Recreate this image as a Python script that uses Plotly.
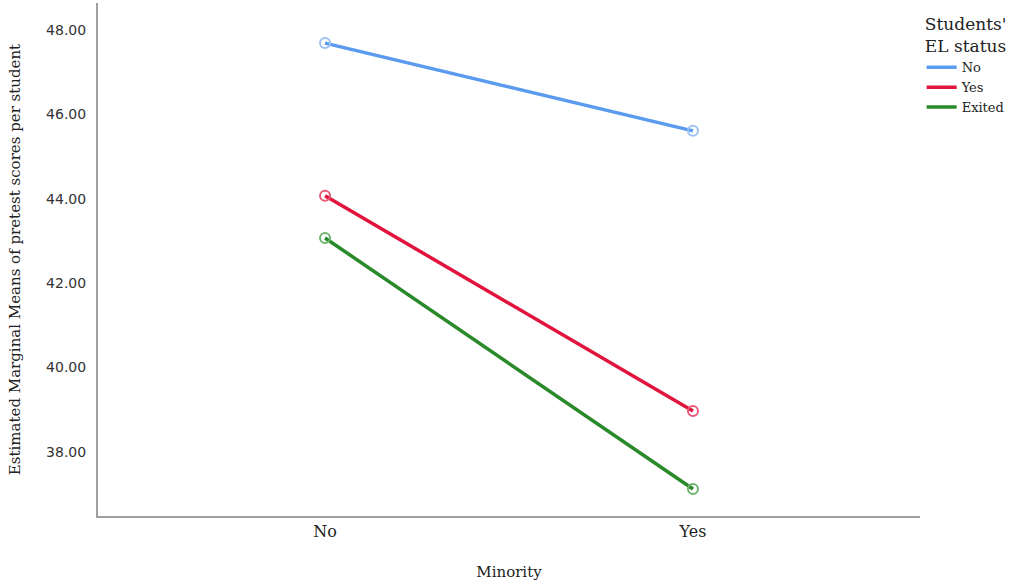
import plotly.graph_objects as go

minority = ['No', 'Yes']
el_status = ['No', 'Yes', 'Exited']
means = {
    'No': [47.69, 45.61],
    'Yes': [44.07, 38.97],
    'Exited': [43.07, 37.12],
}
line_colors = {'No': '#5b9bef', 'Yes': '#e0143c', 'Exited': '#2a8a2a'}
marker_colors = {'No': '#9cc2f5', 'Yes': '#ea5a76', 'Exited': '#6fb56f'}

serif = 'DejaVu Serif, serif'
sans = 'DejaVu Sans, sans-serif'

fig = go.Figure()
for s in el_status:
    # line only in the legend, markers drawn without legend entry
    fig.add_trace(go.Scatter(
        x=minority, y=means[s], name=s, mode='lines',
        line=dict(color=line_colors[s], width=3.5),
    ))
    fig.add_trace(go.Scatter(
        x=minority, y=means[s], name=s, mode='markers', showlegend=False,
        marker=dict(symbol='circle-open', size=10, color=marker_colors[s], line=dict(width=2)),
    ))

fig.update_layout(
    width=1017, height=586,
    paper_bgcolor='white', plot_bgcolor='white',
    margin=dict(l=98, r=97, t=3, b=70),
    legend=dict(
        x=1.002, y=0.99, xanchor='left', yanchor='top',
        title=dict(text="Students'<br>EL status", font=dict(family=serif, size=17, color='#222'), side='top center'),
        font=dict(family=serif, size=13, color='#222'),
        itemwidth=30, tracegroupgap=0,
    ),
    xaxis=dict(
        type='category', range=[-0.617, 1.617],
        showgrid=False, zeroline=False,
        showline=True, linecolor='#a0a0a0', linewidth=2,
        ticks='', tickfont=dict(family=serif, size=16, color='#222'),
        title=dict(text='Minority', font=dict(family=serif, size=15, color='#222'), standoff=26),
    ),
    yaxis=dict(
        range=[36.48, 48.64],
        tickvals=[38, 40, 42, 44, 46, 48], tickformat='.2f',
        showgrid=False, zeroline=False,
        showline=True, linecolor='#a0a0a0', linewidth=2,
        ticks='', ticklabelstandoff=7,
        tickfont=dict(family=sans, size=14, color='#333'),
        title=dict(text='Estimated Marginal Means of pretest scores per student',
                   font=dict(family=serif, size=15, color='#222'), standoff=22),
    ),
)

fig.write_html('out.html', config={'displayModeBar': False},
               post_script="document.body.style.margin='0';")
